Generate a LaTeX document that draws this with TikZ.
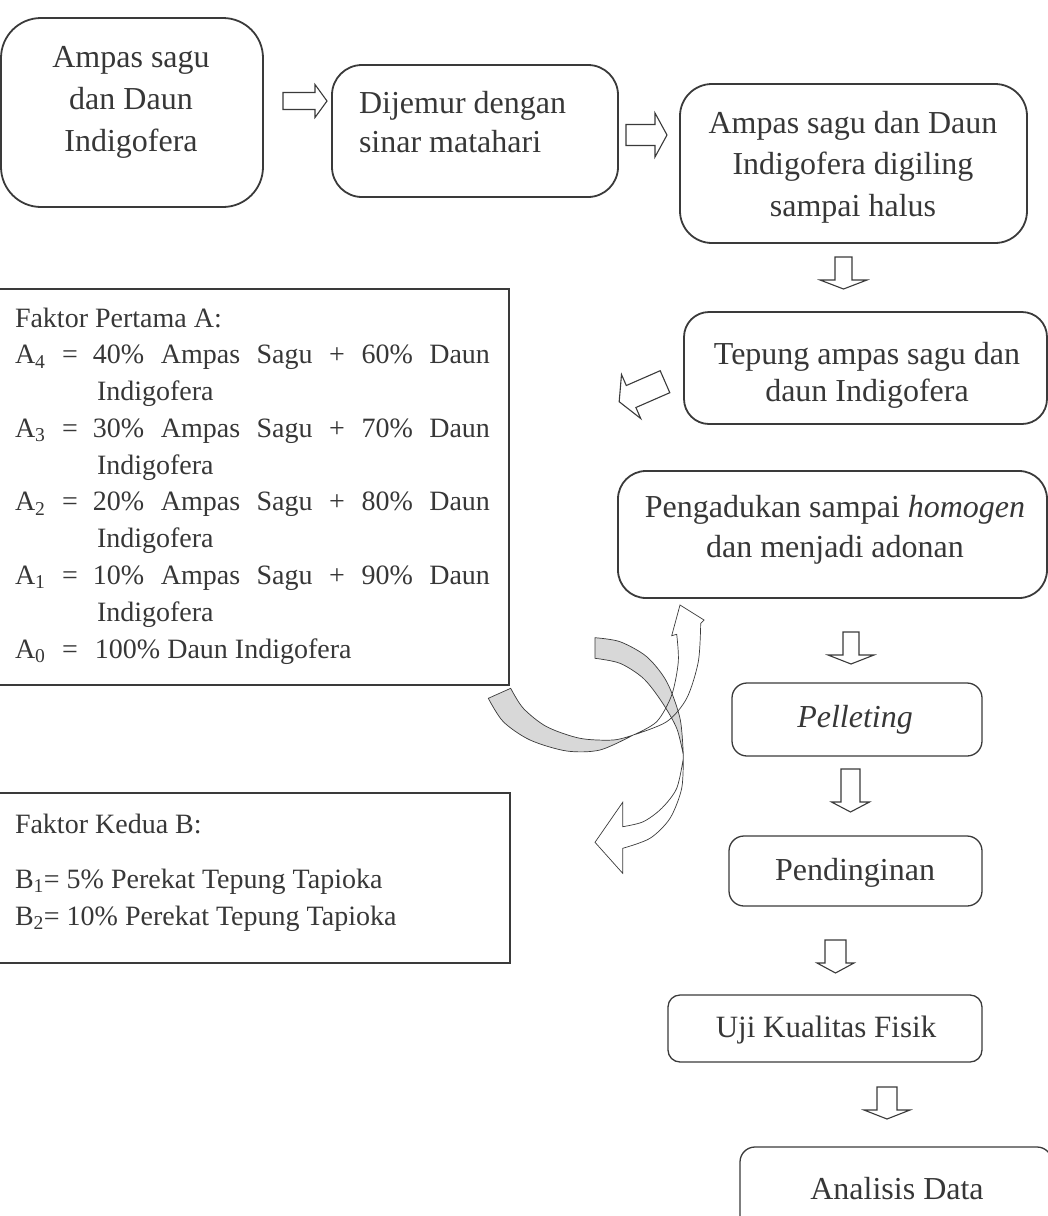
\documentclass[tikz,border=0pt]{standalone}
\usepackage{fontspec}
\setmainfont{Liberation Serif}
\definecolor{linecol}{RGB}{58,58,58}
\definecolor{textcol}{RGB}{55,55,55}
\definecolor{bandgray}{RGB}{216,216,216}
\newcommand{\blockarrow}[6]{%
  \begin{scope}[shift={#1},rotate=#2]
    \draw[barrow] (0,-#4) -- ({#3-#6},-#4) -- ({#3-#6},-#5) -- (#3,0) -- ({#3-#6},#5) -- ({#3-#6},#4) -- (0,#4) -- cycle;
  \end{scope}}
\begin{document}
\begin{tikzpicture}[x=1pt,y=-1pt,
  rbox/.style={draw=linecol, line width=1.8pt, inner sep=0pt, outer sep=0pt},
  sbox/.style={draw=linecol, line width=1.3pt, inner sep=0pt, outer sep=0pt},
  txt/.style={inner sep=0pt, outer sep=0pt, anchor=base, text=textcol},
  barrow/.style={draw=linecol, line width=1.1pt, fill=white, line join=miter},
  band/.style={draw=linecol, line width=0.7pt, fill=bandgray},
  curv/.style={draw=linecol, line width=0.7pt}]
\useasboundingbox (0,0) rectangle (1048,1216);
\clip (0,0) rectangle (1048,1216);

% ---- top row ----
\node[rbox, rounded corners=40pt, minimum width=262pt, minimum height=189pt] (b1) at (132,112.5) {};
\node[txt, font=\fontsize{32}{42}\selectfont] (t1) at (131,67.5)
  {\begin{tabular}[t]{@{}c@{}}Ampas sagu\\dan Daun\\Indigofera\end{tabular}};

\node[rbox, rounded corners=30pt, minimum width=286pt, minimum height=132pt] (b2) at (475,131) {};
\node[txt, anchor=base west, font=\fontsize{32}{39}\selectfont] (t2) at (359,113)
  {\begin{tabular}[t]{@{}l@{}}Dijemur dengan\\sinar matahari\end{tabular}};

\node[rbox, rounded corners=32pt, minimum width=347pt, minimum height=159pt] (b3) at (853.5,163.5) {};
\node[txt, font=\fontsize{32}{41.5}\selectfont] (t3) at (853,133)
  {\begin{tabular}[t]{@{}c@{}}Ampas sagu dan Daun\\Indigofera digiling\\sampai halus\end{tabular}};

\node[rbox, rounded corners=25pt, minimum width=363pt, minimum height=112pt] (b4) at (865.5,368) {};
\node[txt, font=\fontsize{32}{37}\selectfont] (t4) at (867,364)
  {\begin{tabular}[t]{@{}c@{}}Tepung ampas sagu dan\\daun Indigofera\end{tabular}};

% ---- Faktor Pertama ----
\node[rbox, rectangle, minimum width=512pt, minimum height=396pt] (fa) at (253,487) {};
\node[txt, anchor=base west, font=\fontsize{28}{36.78}\selectfont] (tfa) at (15,327)
  {\begin{tabular}[t]{@{}l@{}}
   Faktor Pertama A:\\
   \makebox[40pt][l]{A\textsubscript{4}}\makebox[30pt]{=}\hspace{8pt}\makebox[397pt][s]{40\% Ampas Sagu + 60\% Daun}\\
   \hspace*{82pt}Indigofera\\
   \makebox[40pt][l]{A\textsubscript{3}}\makebox[30pt]{=}\hspace{8pt}\makebox[397pt][s]{30\% Ampas Sagu + 70\% Daun}\\
   \hspace*{82pt}Indigofera\\
   \makebox[40pt][l]{A\textsubscript{2}}\makebox[30pt]{=}\hspace{8pt}\makebox[397pt][s]{20\% Ampas Sagu + 80\% Daun}\\
   \hspace*{82pt}Indigofera\\
   \makebox[40pt][l]{A\textsubscript{1}}\makebox[30pt]{=}\hspace{8pt}\makebox[397pt][s]{10\% Ampas Sagu + 90\% Daun}\\
   \hspace*{82pt}Indigofera\\
   \makebox[40pt][l]{A\textsubscript{0}}\makebox[30pt]{=}\hspace{10pt}100\% Daun Indigofera
  \end{tabular}};

% ---- Faktor Kedua ----
\node[rbox, rectangle, minimum width=513pt, minimum height=170pt] (fb) at (253.5,878) {};
\node[txt, anchor=base west, font=\fontsize{28}{37}\selectfont] (tfb1) at (15,833) {Faktor Kedua B:};
\node[txt, anchor=base west, font=\fontsize{28}{37}\selectfont] (tfb2) at (15,888)
  {\begin{tabular}[t]{@{}l@{}}B\textsubscript{1}= 5\% Perekat Tepung Tapioka\\B\textsubscript{2}= 10\% Perekat Tepung Tapioka\end{tabular}};

% ---- right column ----
\node[rbox, rounded corners=28pt, minimum width=429pt, minimum height=127pt] (b5) at (832.5,534.5) {};
\node[txt, font=\fontsize{32}{40}\selectfont] (t5) at (835,517)
  {\begin{tabular}[t]{@{}c@{}}Pengadukan sampai \textit{homogen}\\dan menjadi adonan\end{tabular}};

\node[sbox, rounded corners=15pt, minimum width=250pt, minimum height=73pt] (b6) at (857,719.5) {};
\node[txt, font=\fontsize{32}{37}\selectfont] (t6) at (855,727) {\textit{Pelleting}};

\node[sbox, rounded corners=15pt, minimum width=253pt, minimum height=70pt] (b7) at (855.5,871) {};
\node[txt, font=\fontsize{32}{37}\selectfont] (t7) at (855,880) {Pendinginan};

\node[sbox, rounded corners=12pt, minimum width=314pt, minimum height=67pt] (b8) at (825,1028.5) {};
\node[txt, font=\fontsize{31}{37}\selectfont] (t8) at (826,1037) {Uji Kualitas Fisik};

\node[sbox, rounded corners=15pt, minimum width=312pt, minimum height=93pt] (b9) at (896,1193.5) {};
\node[txt, font=\fontsize{32}{37}\selectfont] (t9) at (897,1199) {Analisis Data};

% ---- block arrows ----
\blockarrow{(283,101)}{0}{44}{8.5}{16.5}{12}
\blockarrow{(626,135)}{0}{41}{10.5}{22}{12}
\blockarrow{(843.5,257)}{-90}{32}{8.5}{23.5}{9}
\blockarrow{(665,381.7)}{203.6}{50}{12}{24}{13}
\blockarrow{(851,632)}{-90}{32}{8}{23}{9}
\blockarrow{(850.5,769)}{-90}{43}{9.5}{19}{10}
\blockarrow{(835.5,940)}{-90}{33}{10.5}{18.5}{10}
\blockarrow{(887,1087)}{-90}{32}{10}{23}{9}

% ---- curved arrows ----
\filldraw[band] plot[smooth] coordinates {(595,637.7) (620,641.7) (646.7,656.7) (666.7,681.7) (680,718.3) (683.3,755)}
  -- plot[smooth] coordinates {(683.3,755) (676.7,728.3) (661.7,701.7) (643.3,678.3) (620,663.3) (595,658.3)} -- cycle;
\filldraw[band] plot[smooth] coordinates {(488.3,698.3) (503.3,721.7) (530,740) (566.7,751) (600,750) (633.3,735)}
  -- plot[smooth] coordinates {(633.3,735) (613.3,740) (580,738.3) (546.7,726.7) (523.3,708.3) (510.7,688.3)} -- cycle;
\draw[curv] plot[smooth] coordinates {(683.3,755) (681.7,788.3) (670,818.3) (650,838.3) (622.7,848.3)}
  -- (622.7,873.3) -- (595,842.3) -- (622.7,802.3) -- (622.7,826.7)
  -- plot[smooth] coordinates {(622.7,826.7) (643.3,821.7) (661.7,808.3) (676.7,788.3) (683.3,758.3)} -- cycle;
\draw[curv] plot[smooth] coordinates {(633.3,735) (666.7,721.7) (686.7,698.3) (698.3,661.7) (700.7,623.3)}
  -- (704,620) -- (680,605) -- (671.7,635.7) -- (676.7,634.3)
  -- plot[smooth] coordinates {(676.7,634.3) (678.3,661.7) (671.7,695) (656.7,721.7) (633.3,735)} -- cycle;
\end{tikzpicture}
\end{document}
